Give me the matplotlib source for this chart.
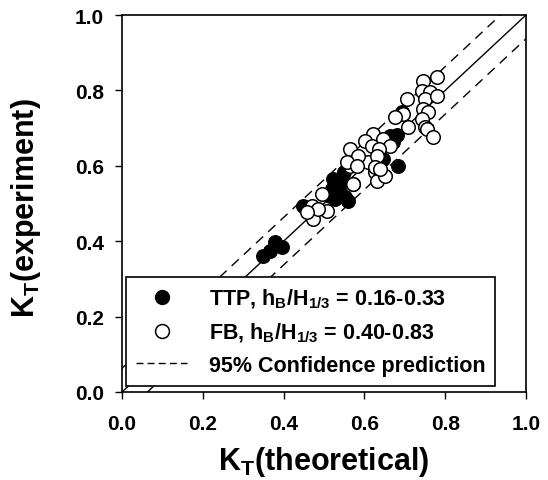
import matplotlib
matplotlib.use("Agg")
import matplotlib.pyplot as plt
from matplotlib.lines import Line2D

plt.rcParams['font.family'] = ['Liberation Sans', 'DejaVu Sans']
plt.rcParams['font.weight'] = 'bold'
plt.rcParams['mathtext.fontset'] = 'custom'
plt.rcParams['mathtext.rm'] = 'Liberation Sans:bold'
plt.rcParams['mathtext.it'] = 'Liberation Sans:bold'
plt.rcParams['mathtext.bf'] = 'Liberation Sans:bold'

# TTP (filled) data: theoretical vs experiment
ttp_theory = [0.350, 0.379, 0.395, 0.366, 0.523, 0.536, 0.519, 0.540, 0.552, 0.527,
              0.560, 0.515, 0.449, 0.680, 0.692, 0.672, 0.684, 0.646, 0.663, 0.550, 0.545]
ttp_exp = [0.362, 0.397, 0.384, 0.375, 0.565, 0.556, 0.538, 0.530, 0.516, 0.512,
           0.507, 0.521, 0.494, 0.683, 0.742, 0.662, 0.600, 0.618, 0.680, 0.583, 0.560]

# FB (open) data
fb_theory = [0.494, 0.470, 0.507, 0.474, 0.486, 0.457, 0.573, 0.564, 0.581, 0.626,
             0.630, 0.609, 0.779, 0.746, 0.742, 0.762, 0.705, 0.750, 0.779, 0.746,
             0.758, 0.696, 0.742, 0.709, 0.750, 0.754, 0.771, 0.622, 0.647, 0.601,
             0.663, 0.618, 0.635, 0.564, 0.585, 0.630, 0.556, 0.581, 0.626, 0.651,
             0.573, 0.639, 0.676]
fb_exp = [0.525, 0.494, 0.481, 0.459, 0.485, 0.477, 0.552, 0.600, 0.605, 0.583,
          0.560, 0.610, 0.835, 0.826, 0.799, 0.795, 0.777, 0.777, 0.786, 0.751,
          0.742, 0.737, 0.724, 0.702, 0.702, 0.698, 0.676, 0.684, 0.671, 0.667,
          0.653, 0.653, 0.645, 0.645, 0.627, 0.627, 0.609, 0.600, 0.596, 0.574,
          0.552, 0.592, 0.729]

# perfect agreement line and 95% confidence prediction band
line_x = [0.0, 1.0]
band_offset = 0.063

ticks = [0.0, 0.2, 0.4, 0.6, 0.8, 1.0]
tick_labels = ['0.0', '0.2', '0.4', '0.6', '0.8', '1.0']

fig = plt.figure(figsize=(5.48, 4.81), dpi=100)
ax = fig.add_axes([122/548, 88/481, 404/548, 377/481])

ax.plot(line_x, line_x, color='black', lw=1.0, zorder=2)
ax.plot(line_x, [v + band_offset for v in line_x], color='black', lw=1.0,
        dashes=(7, 5), zorder=2)
ax.plot(line_x, [v - band_offset for v in line_x], color='black', lw=1.0,
        dashes=(7, 5), zorder=2)

ax.scatter(ttp_theory, ttp_exp, s=95, facecolor='black', edgecolor='black',
           linewidth=1.0, zorder=3)
ax.scatter(fb_theory, fb_exp, s=95, facecolor='white', edgecolor='black',
           linewidth=1.1, zorder=4)

ax.set_xlim(0, 1)
ax.set_ylim(0, 1)
ax.set_xticks(ticks)
ax.set_xticklabels(tick_labels)
ax.set_yticks(ticks)
ax.set_yticklabels(tick_labels)
ax.tick_params(axis='both', direction='out', length=5, width=1.0, labelsize=15,
               top=False, right=False)
ax.tick_params(axis='x', pad=11)
ax.tick_params(axis='y', pad=8)
for lab in ax.get_xticklabels() + ax.get_yticklabels():
    lab.set_fontweight('bold')
for sp in ax.spines.values():
    sp.set_linewidth(1.2)

ax.set_xlabel(r'K$_\mathregular{T}$(theoretical)', fontsize=22, fontweight='bold',
              labelpad=8)
ax.set_ylabel(r'K$_\mathregular{T}$(experiment)', fontsize=22, fontweight='bold')
ax.yaxis.set_label_coords(-0.195, 0.49)

handles = [
    Line2D([], [], marker='o', ls='none', markersize=10, markerfacecolor='black',
           markeredgecolor='black'),
    Line2D([], [], marker='o', ls='none', markersize=10, markerfacecolor='white',
           markeredgecolor='black', markeredgewidth=1.1),
    Line2D([], [], color='black', lw=1.0, dashes=(5, 3)),
]
labels = [
    r'TTP, h$_\mathregular{B}$/H$_\mathregular{1/3}$ = 0.16-0.33',
    r'FB, h$_\mathregular{B}$/H$_\mathregular{1/3}$ = 0.40-0.83',
    '95% Confidence prediction',
]
leg = ax.legend(handles, labels, loc='lower left', bbox_to_anchor=(0.01, 0.017),
                borderaxespad=0, frameon=True, fancybox=False, framealpha=1,
                edgecolor='black', prop={'weight': 'bold', 'size': 15.5},
                handlelength=2.4, handletextpad=1.0, labelspacing=0.5,
                borderpad=0.45)
leg.get_frame().set_linewidth(1.2)
leg.set_zorder(10)

fig.savefig('out.png', dpi=100)
